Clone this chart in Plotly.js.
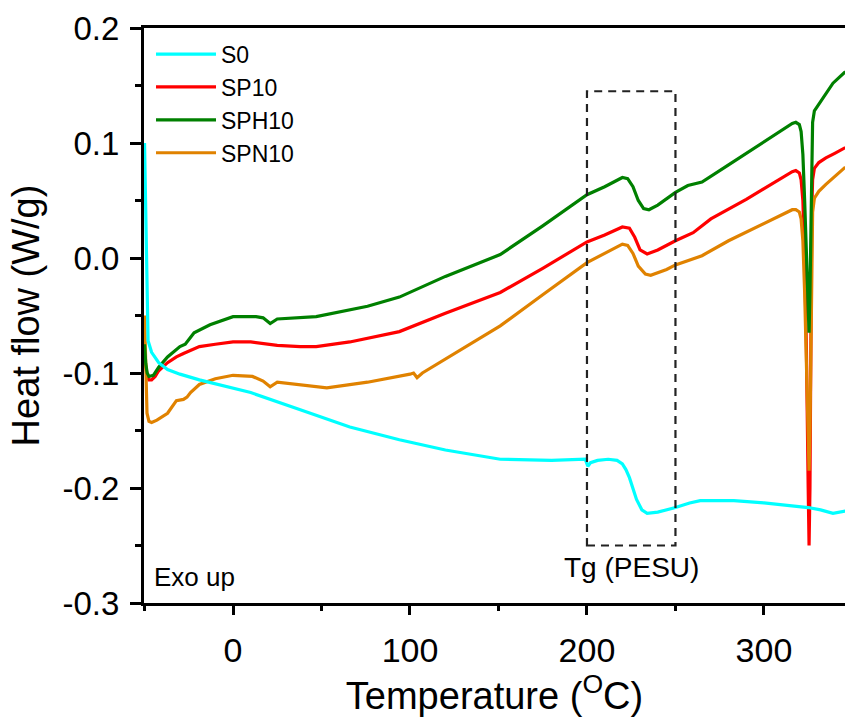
<!DOCTYPE html>
<html>
<head>
<meta charset="utf-8">
<script src="https://cdn.plot.ly/plotly-3.0.1.min.js"></script>
<style>html,body{margin:0;padding:0;background:#fff;}#chart{width:845px;height:720px;}</style>
</head>
<body>
<div id="chart"></div>
<script>
// ---- Data ----
const s0T = [-50, -49.6, -49.2, -48.8, -48.4, -48, -46, -42, -37, -30, -19, 0, 10, 38, 66, 94, 120, 151, 180, 199, 200.5, 202, 206, 212, 217, 220, 222, 224, 226, 228, 231, 234, 240, 250, 258, 264, 275, 283, 300, 315, 325, 332, 339, 346];
const s0V = [0.100, 0.060, 0.020, -0.030, -0.060, -0.072, -0.082, -0.091, -0.097, -0.101, -0.106, -0.113, -0.117, -0.132, -0.147, -0.158, -0.167, -0.175, -0.176, -0.175, -0.181, -0.178, -0.176, -0.175, -0.176, -0.179, -0.184, -0.191, -0.200, -0.210, -0.219, -0.222, -0.221, -0.217, -0.213, -0.211, -0.211, -0.211, -0.213, -0.215, -0.217, -0.219, -0.222, -0.220];

const sp10T = [-50, -49.3, -48.5, -47.5, -46, -44, -42, -37, -32, -28, -19, -10, 0, 10, 19, 25, 38, 47, 66, 94, 120, 151, 175, 200, 210, 220, 224, 227, 230, 234, 240, 250, 260, 270, 290, 310, 316, 318, 320, 321, 322, 323, 324, 325, 325.5, 326, 326.5, 327, 327.5, 328.5, 331, 335, 340, 346];
const sp10V = [-0.085, -0.097, -0.103, -0.106, -0.106, -0.103, -0.098, -0.091, -0.086, -0.083, -0.077, -0.075, -0.073, -0.073, -0.075, -0.076, -0.077, -0.077, -0.073, -0.064, -0.048, -0.030, -0.009, 0.014, 0.020, 0.027, 0.026, 0.018, 0.007, 0.0035, 0.007, 0.015, 0.022, 0.034, 0.051, 0.070, 0.075, 0.076, 0.074, 0.068, 0.050, 0.000, -0.080, -0.200, -0.250, -0.200, -0.050, 0.040, 0.068, 0.078, 0.083, 0.087, 0.091, 0.096];

const sph10T = [-50, -49.3, -48.5, -47.5, -45, -42, -37, -30, -27, -25, -22, -13, 0, 13, 17, 21, 25, 47, 76, 94, 120, 151, 175, 200, 210, 220, 223, 226, 229, 232, 235, 240, 250, 257, 260, 265, 280, 300, 310, 316, 318, 320, 321, 322, 323, 324, 325, 325.5, 326, 326.5, 327, 327.5, 328.5, 331, 335, 339, 346];
const sph10V = [-0.075, -0.092, -0.100, -0.103, -0.102, -0.095, -0.086, -0.077, -0.075, -0.071, -0.065, -0.058, -0.051, -0.051, -0.052, -0.057, -0.053, -0.051, -0.042, -0.034, -0.016, 0.003, 0.028, 0.055, 0.062, 0.070, 0.069, 0.062, 0.050, 0.043, 0.042, 0.046, 0.057, 0.063, 0.064, 0.066, 0.081, 0.101, 0.111, 0.117, 0.118, 0.116, 0.110, 0.090, 0.050, 0.000, -0.040, -0.065, -0.030, 0.030, 0.090, 0.118, 0.128, 0.134, 0.143, 0.152, 0.162];

const spn10T = [-50, -49.6, -49.2, -48.6, -47.5, -46, -43, -40, -37, -32, -28, -26, -24, -19, -10, 0, 11, 17, 21, 25, 38, 53, 76, 94, 100, 102, 104, 107, 120, 151, 175, 200, 210, 220, 223, 226, 229, 233, 236, 245, 250, 257, 260, 265, 280, 300, 310, 316, 318, 320, 321, 322, 323, 324, 325, 325.5, 326, 326.5, 327, 327.5, 328.5, 331, 335, 340, 346];
const spn10V = [-0.050, -0.085, -0.118, -0.135, -0.142, -0.143, -0.141, -0.138, -0.135, -0.124, -0.123, -0.121, -0.117, -0.110, -0.105, -0.102, -0.103, -0.107, -0.112, -0.108, -0.110, -0.113, -0.108, -0.103, -0.101, -0.100, -0.104, -0.100, -0.088, -0.059, -0.032, -0.004, 0.004, 0.012, 0.011, 0.004, -0.007, -0.014, -0.015, -0.010, -0.006, -0.002, -0.001, 0.002, 0.015, 0.030, 0.038, 0.042, 0.042, 0.040, 0.034, 0.015, -0.030, -0.100, -0.170, -0.185, -0.150, -0.060, 0.010, 0.040, 0.052, 0.058, 0.064, 0.071, 0.079];

const seriesNames = ['S0', 'SP10', 'SPH10', 'SPN10'];
const seriesColors = ['#00FFFF', '#FF0000', '#008000', '#E08200'];

const tgBoxX = [200, 250];
const tgBoxY = [-0.25, 0.145];
const tgLabel = 'Tg (PESU)';
const exoLabel = 'Exo up';

const xTickVals = [0, 100, 200, 300];
const yTickVals = [0.2, 0.1, 0.0, -0.1, -0.2, -0.3];
const yTickText = ['0.2', '0.1', '0.0', '-0.1', '-0.2', '-0.3'];

// ---- Traces ----
function mk(i, x, y, rank) {
  return {x: x, y: y, name: seriesNames[i], type: 'scatter', mode: 'lines',
    line: {color: seriesColors[i], width: 3.2}, legendrank: rank};
}
const traces = [
  mk(1, sp10T, sp10V, 2),
  mk(3, spn10T, spn10V, 4),
  mk(2, sph10T, sph10V, 3),
  mk(0, s0T, s0V, 1)
];

const font = 'Liberation Sans, Arial, sans-serif';
const layout = {
  width: 845, height: 720,
  margin: {l: 144, r: 0, t: 28, b: 117, pad: 0},
  paper_bgcolor: '#ffffff', plot_bgcolor: '#ffffff',
  showlegend: true,
  legend: {x: 0.01, y: 0.992, xanchor: 'left', yanchor: 'top', bgcolor: 'rgba(0,0,0,0)',
    font: {family: font, size: 23, color: '#000'}, tracegroupgap: 0, itemwidth: 60},
  xaxis: {
    range: [-50.3, 345.8], showgrid: false, zeroline: false,
    showline: true, linecolor: '#000', linewidth: 3, mirror: true,
    ticks: 'outside', ticklen: 9, tickwidth: 3, tickcolor: '#000',
    tickvals: xTickVals, ticktext: xTickVals.map(String),
    tickfont: {family: font, size: 34, color: '#000'}, ticklabelstandoff: 6,
    minor: {dtick: 50, tick0: 0, ticks: 'outside', ticklen: 5, tickwidth: 3, tickcolor: '#000'},
    title: {text: 'Temperature (<sup>O</sup>C)', font: {family: font, size: 38, color: '#000'}, standoff: 12},
    automargin: false
  },
  yaxis: {
    range: [-0.3, 0.2], showgrid: false, zeroline: false,
    showline: true, linecolor: '#000', linewidth: 3, mirror: false,
    ticks: 'outside', ticklen: 11, tickwidth: 3, tickcolor: '#000',
    tickvals: yTickVals, ticktext: yTickText,
    tickfont: {family: font, size: 33, color: '#000'}, ticklabelstandoff: 4,
    minor: {dtick: 0.05, tick0: 0, ticks: 'outside', ticklen: 6, tickwidth: 3, tickcolor: '#000'},
    title: {text: 'Heat flow (W/g)', font: {family: font, size: 38, color: '#000'}, standoff: 12},
    automargin: false
  },
  shapes: [{type: 'rect', xref: 'x', yref: 'y', x0: tgBoxX[0], x1: tgBoxX[1], y0: tgBoxY[0], y1: tgBoxY[1],
    line: {color: '#222', width: 2.2, dash: '8px,6px'}, fillcolor: 'rgba(0,0,0,0)'}],
  annotations: [
    {xref: 'x', yref: 'y', x: (tgBoxX[0] + tgBoxX[1]) / 2, y: -0.269, text: tgLabel, showarrow: false,
      font: {family: font, size: 28, color: '#000'}, xanchor: 'center', yanchor: 'middle'},
    {xref: 'paper', yref: 'paper', x: 0.012, y: 0.045, text: exoLabel, showarrow: false,
      font: {family: font, size: 26, color: '#000'}, xanchor: 'left', yanchor: 'middle'}
  ]
};

Plotly.newPlot('chart', traces, layout, {displayModeBar: false, staticPlot: true});
</script>
</body>
</html>
